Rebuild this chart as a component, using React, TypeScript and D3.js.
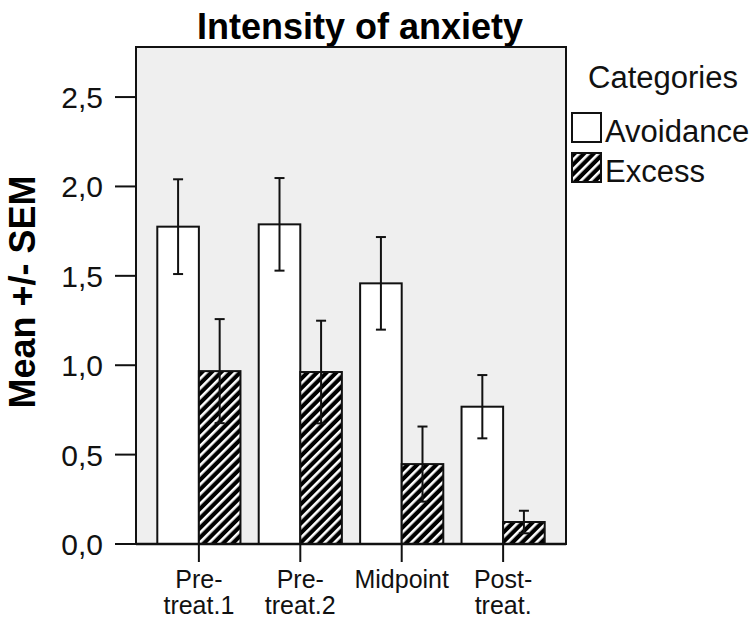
import React from "react";
import * as d3 from "d3";

const categories = ["Pre-\ntreat.1", "Pre-\ntreat.2", "Midpoint", "Post-\ntreat."];
const seriesNames = ["Avoidance", "Excess"];
const avoidanceMean = [1.775, 1.788, 1.458, 0.768];
const avoidanceSem = [0.265, 0.259, 0.259, 0.177];
const excessMean = [0.967, 0.962, 0.447, 0.123];
const excessSem = [0.291, 0.287, 0.21, 0.063];
const yTicks = [0, 0.5, 1.0, 1.5, 2.0, 2.5];

const W = 756;
const H = 623;
const plot = { left: 136, right: 566, top: 47, bottom: 544 };
const FONT = "Liberation Sans, Arial, sans-serif";

export default function App() {
  const x = d3
    .scaleBand<string>()
    .domain(categories)
    .range([plot.left, plot.right])
    .paddingInner(0.18)
    .paddingOuter(0.21);
  const sub = d3
    .scaleBand<string>()
    .domain(seriesNames)
    .range([0, x.bandwidth()]);
  const y = d3.scaleLinear().domain([0, 2.78]).range([plot.bottom, plot.top]);
  const fmt = (v: number) => d3.format(".1f")(v).replace(".", ",");

  const series = [
    { name: "Avoidance", mean: avoidanceMean, sem: avoidanceSem, fill: "#ffffff" },
    { name: "Excess", mean: excessMean, sem: excessSem, fill: "url(#hatch)" },
  ];

  return (
    <svg width={W} height={H} style={{ position: "absolute", left: 0, top: 0 }}>
      <defs>
        <pattern
          id="hatch"
          patternUnits="userSpaceOnUse"
          width={6.8}
          height={6.8}
          patternTransform="rotate(45)"
        >
          <rect width={6.8} height={6.8} fill="#000" />
          <rect x={0} y={0} width={2.6} height={6.8} fill="#fff" />
        </pattern>
      </defs>
      <rect width={W} height={H} fill="#fff" />
      <text
        x={360}
        y={39}
        textAnchor="middle"
        fontFamily={FONT}
        fontWeight="bold"
        fontSize={36}
      >
        Intensity of anxiety
      </text>
      <rect
        x={plot.left}
        y={plot.top}
        width={plot.right - plot.left}
        height={plot.bottom - plot.top}
        fill="#efefef"
        stroke="#111"
        strokeWidth={2}
      />
      {yTicks.map((t) => (
        <g key={t}>
          <line x1={115} x2={plot.left} y1={y(t)} y2={y(t)} stroke="#111" strokeWidth={2} />
          <text
            x={103}
            y={y(t) + 11}
            textAnchor="end"
            fontFamily={FONT}
            fontSize={30}
            fill="#111"
          >
            {fmt(t)}
          </text>
        </g>
      ))}
      <text
        transform={`translate(35, ${292}) rotate(-90)`}
        textAnchor="middle"
        fontFamily={FONT}
        fontWeight="bold"
        fontSize={36}
      >
        Mean +/- SEM
      </text>
      {series.map((s) =>
        categories.map((c, i) => {
          const bx = (x(c) as number) + (sub(s.name) as number);
          const bw = sub.bandwidth();
          const cx = bx + bw / 2;
          const m = s.mean[i];
          const e = s.sem[i];
          return (
            <g key={s.name + c}>
              <rect
                x={bx}
                y={y(m)}
                width={bw}
                height={y(0) - y(m)}
                fill={s.fill}
                stroke="#111"
                strokeWidth={2}
              />
              <line x1={cx} x2={cx} y1={y(m + e)} y2={y(m - e)} stroke="#111" strokeWidth={2} />
              <line x1={cx - 5} x2={cx + 5} y1={y(m + e)} y2={y(m + e)} stroke="#111" strokeWidth={2} />
              <line x1={cx - 5} x2={cx + 5} y1={y(m - e)} y2={y(m - e)} stroke="#111" strokeWidth={2} />
            </g>
          );
        })
      )}
      <line x1={plot.left} x2={plot.right} y1={plot.bottom} y2={plot.bottom} stroke="#111" strokeWidth={2.5} />
      {categories.map((c) => {
        const cx = (x(c) as number) + x.bandwidth() / 2;
        const lines = c.split("\n");
        return (
          <g key={c}>
            <line x1={cx} x2={cx} y1={plot.bottom} y2={plot.bottom + 18} stroke="#111" strokeWidth={2} />
            {lines.map((l, k) => (
              <text
                key={k}
                x={cx}
                y={588 + k * 26}
                textAnchor="middle"
                fontFamily={FONT}
                fontSize={25}
                fill="#111"
              >
                {l}
              </text>
            ))}
          </g>
        );
      })}
      <text x={588} y={88} fontFamily={FONT} fontSize={31} fill="#111">
        Categories
      </text>
      {series.map((s, i) => (
        <g key={s.name}>
          <rect
            x={572}
            y={113 + i * 40}
            width={29}
            height={29}
            fill={s.fill}
            stroke="#111"
            strokeWidth={2}
          />
          <text x={605} y={142 + i * 40} fontFamily={FONT} fontSize={31} fill="#111">
            {s.name}
          </text>
        </g>
      ))}
    </svg>
  );
}
